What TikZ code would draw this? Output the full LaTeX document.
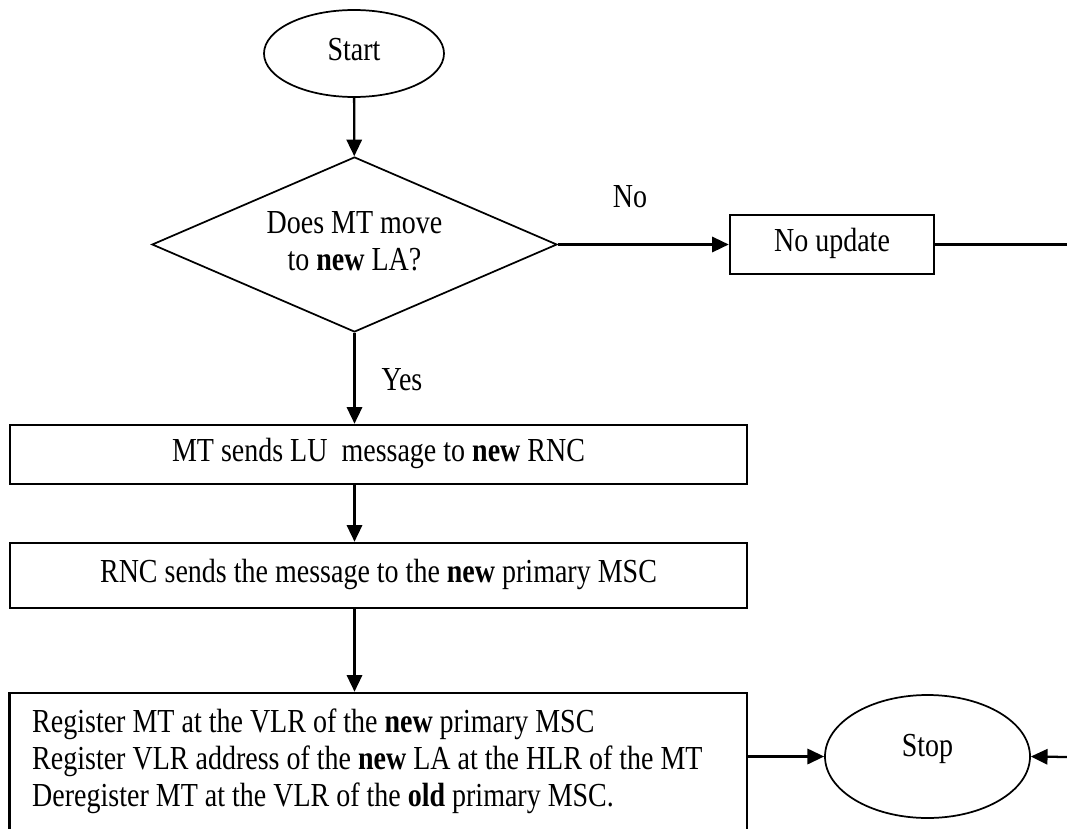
\documentclass[tikz,border=0pt]{standalone}
\usepackage{fontspec}
\usepackage{graphicx}
\setmainfont{Liberation Serif}
\usetikzlibrary{shapes.geometric,arrows.meta}
\newcommand{\tallc}[1]{\scalebox{1}[1.2]{\begin{tabular}{@{}c@{}}#1\end{tabular}}}
\newcommand{\talll}[1]{\makebox[519pt][l]{\scalebox{1}[1.2]{\begin{tabular}{@{}l@{}}#1\end{tabular}}}}
\begin{document}
\begin{tikzpicture}[x=0.75pt,y=-0.75pt,
  every node/.style={font=\fontsize{21}{23.4}\selectfont},
  box/.style={draw, line width=1.9pt, inner sep=0pt, align=center},
  oval/.style={draw, ellipse, line width=1.3pt, inner sep=0pt},
  dec/.style={draw, diamond, line width=1.3pt, inner sep=0pt, aspect=2.3, align=center},
  arr/.style={line width=1.7pt, -{Triangle[length=12.5pt,width=11.5pt]}},
  ln/.style={line width=1.7pt}]
\useasboundingbox (0,0) rectangle (1067,828);
\node[oval, minimum width=135pt, minimum height=65.25pt] (start) at (354,53.5) {\tallc{Start}};
\node[dec, minimum width=303.75pt, minimum height=131.25pt] (dec) at (354.5,244.5) {\tallc{Does MT move\\to \textbf{new} LA?}};
\node[box, minimum width=153pt, minimum height=44.25pt] (noupd) at (832,244.5) {\tallc{No update}};
\node[box, minimum width=552.75pt, minimum height=44.25pt] (r1) at (378.5,454.5) {\tallc{MT sends LU\ \ message to \textbf{new} RNC}};
\node[box, minimum width=552.75pt, minimum height=48.75pt] (r2) at (378.5,575.5) {\tallc{RNC sends the message to the \textbf{new} primary MSC}};
\node[box, minimum width=553pt, minimum height=103.5pt] (r3) at (378.25,762) {\talll{Register MT at the VLR of the \textbf{new} primary MSC\\Register VLR address of the \textbf{new} LA at the HLR of the MT\\Deregister MT at the VLR of the \textbf{old} primary MSC.}};
\node[oval, minimum width=153.75pt, minimum height=92.25pt] (stop) at (927.5,756.5) {\raisebox{0pt}[0pt][0pt]{\scalebox{1}[1.2]{Stop}}};
\node (no) at (630,200) {\tallc{No}};
\node (yes) at (402,383) {\tallc{Yes}};
\coordinate (rt) at (1067,244.5);
\coordinate (rb) at (1067,757);
\draw[arr] (start) -- (dec);
\draw[arr] (dec.east) -- (noupd.west);
\draw[ln] (noupd.east) -- (rt);
\draw[arr] (dec.south) -- (dec.south |- r1.north);
\draw[arr] (r1.south -| dec.south) -- (r2.north -| dec.south);
\draw[arr] (r2.south -| dec.south) -- (r3.north -| dec.south);
\draw[arr] (r3.east |- stop.west) -- (stop.west);
\draw[arr] (rb) -- (stop.east);
\end{tikzpicture}
\end{document}
